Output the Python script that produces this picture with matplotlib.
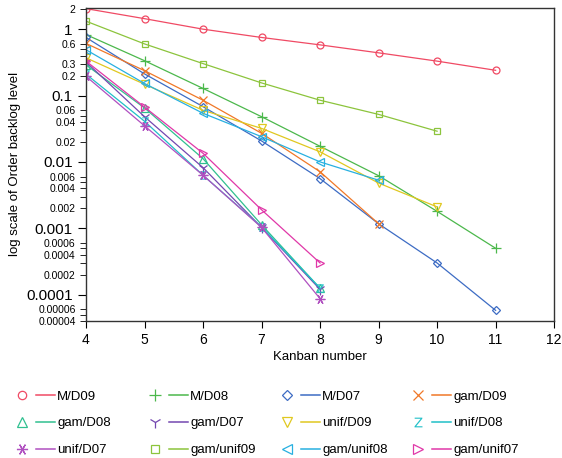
import matplotlib
matplotlib.use("Agg")
import matplotlib.pyplot as plt
from matplotlib.lines import Line2D
from matplotlib.legend_handler import HandlerTuple
from matplotlib.ticker import FixedLocator, FixedFormatter

plt.rcParams['font.family'] = ['Liberation Sans', 'DejaVu Sans']

# series (Kanban number -> backlog level)
labels = ["M/D09", "M/D08", "M/D07", "gam/D09",
          "gam/D08", "gam/D07", "unif/D09", "unif/D08",
          "unif/D07", "gam/unif09", "gam/unif08", "gam/unif07"]

x_md09 = [4, 5, 6, 7, 8, 9, 10, 11]
md09 = [2.04, 1.44, 1.0, 0.75, 0.58, 0.44, 0.33, 0.24]
x_md08 = [4, 5, 6, 7, 8, 9, 10, 11]
md08 = [0.83, 0.335, 0.128, 0.048, 0.0172, 0.0062, 0.0018, 0.0005]
x_md07 = [4, 5, 6, 7, 8, 9, 10, 11]
md07 = [0.75, 0.212, 0.068, 0.0207, 0.0056, 0.00117, 0.0003, 0.000058]
x_gd09 = [4, 5, 6, 7, 8, 9]
gd09 = [0.61, 0.237, 0.085, 0.027, 0.0071, 0.00117]
x_gd08 = [4, 5, 6, 7, 8]
gd08 = [0.29, 0.065, 0.0112, 0.00113, 0.000125]
x_gd07 = [4, 5, 6, 7, 8]
gd07 = [0.32, 0.048, 0.0082, 0.00103, 0.00012]
x_ud09 = [4, 5, 6, 7, 8, 9, 10]
ud09 = [0.37, 0.148, 0.060, 0.032, 0.0142, 0.0048, 0.0021]
x_ud08 = [4, 5, 6, 7, 8]
ud08 = [0.21, 0.041, 0.0063, 0.00105, 0.000125]
x_ud07 = [4, 5, 6, 7, 8]
ud07 = [0.195, 0.035, 0.0063, 0.00103, 0.000087]
x_gu09 = [4, 5, 6, 7, 8, 9, 10]
gu09 = [1.32, 0.60, 0.303, 0.155, 0.085, 0.052, 0.029]
x_gu08 = [4, 5, 6, 7, 8, 9]
gu08 = [0.49, 0.152, 0.054, 0.024, 0.010, 0.0053]
x_gu07 = [4, 5, 6, 7, 8]
gu07 = [0.33, 0.067, 0.0135, 0.0019, 0.0003]

xs = [x_md09, x_md08, x_md07, x_gd09, x_gd08, x_gd07,
      x_ud09, x_ud08, x_ud07, x_gu09, x_gu08, x_gu07]
ys = [md09, md08, md07, gd09, gd08, gd07, ud09, ud08, ud07, gu09, gu08, gu07]

colors = ["#f04a64", "#4cb84c", "#3d6cc4", "#f07828",
          "#30c090", "#7448b0", "#e0c820", "#20c0c8",
          "#b050c0", "#8cc43c", "#28b0e0", "#e038a8"]
markers = ["o", "+", "D", "x", "^", "1", "v", r"$\mathsf{Z}$",
           (6, 2, 30), "s", "<", ">"]
msizes = [5, 7, 4.5, 6, 5.5, 8, 5.5, 6, 7, 5, 5.5, 5.5]

fig = plt.figure(figsize=(5.62, 4.58), dpi=100)
ax = fig.add_axes([0.153, 0.299, 0.833, 0.684])

handles = []
for x, y, c, m, ms in zip(xs, ys, colors, markers, msizes):
    # the text marker looks right filled, the others are hollow
    filled = isinstance(m, str) and m.startswith("$")
    mfc = c if filled else "none"
    mw = 0 if filled else 0.9
    ax.plot(x, y, color=c, lw=0.9, marker=m, ms=ms, mfc=mfc,
            mec=c, mew=mw)
    mk = Line2D([], [], ls="none", marker=m, ms=ms + 1, mfc=mfc,
                mec=c, mew=mw)
    ln = Line2D([], [], color=c, lw=1.1)
    handles.append((mk, ln))

ax.set_yscale("log")
ax.set_xlim(4, 12)
ax.set_ylim(4e-5, 2.1)
ax.set_xticks(range(4, 13))
ax.tick_params(axis="x", labelsize=10, length=5, direction="out")

major = [1e-4, 1e-3, 1e-2, 1e-1, 1]
major_lab = ["0.0001", "0.001", "0.01", "0.1", "1"]
minor = [4e-5, 5e-5, 6e-5,
         2e-4, 3e-4, 4e-4, 5e-4, 6e-4,
         2e-3, 3e-3, 4e-3, 5e-3, 6e-3,
         2e-2, 3e-2, 4e-2, 5e-2, 6e-2,
         0.2, 0.3, 0.4, 0.5, 0.6, 2]
minor_lab = ["0.00004", "", "0.00006",
             "0.0002", "", "0.0004", "", "0.0006",
             "0.002", "", "0.004", "", "0.006",
             "0.02", "", "0.04", "", "0.06",
             "0.2", "0.3", "", "", "0.6", "2"]
ax.yaxis.set_major_locator(FixedLocator(major))
ax.yaxis.set_major_formatter(FixedFormatter(major_lab))
ax.yaxis.set_minor_locator(FixedLocator(minor))
ax.yaxis.set_minor_formatter(FixedFormatter(minor_lab))
ax.tick_params(axis="y", which="major", labelsize=11, length=6)
ax.tick_params(axis="y", which="minor", labelsize=7.5, length=4)

for s in ax.spines.values():
    s.set_color("#333333")
    s.set_linewidth(1.0)

ax.set_xlabel("Kanban number", fontsize=9.5, labelpad=3)
ax.set_ylabel("log scale of Order backlog level", fontsize=9.5, labelpad=4)

# one legend per column so the columns are evenly spaced like the reference
col_left = [12.5, 145.5, 277.5, 408.5]
for c in range(4):
    idx = [c + 4 * r for r in range(3)]
    leg = fig.legend([handles[i] for i in idx], [labels[i] for i in idx],
                     handler_map={tuple: HandlerTuple(ndivide=None, pad=0.3)},
                     loc="upper left", bbox_to_anchor=(col_left[c] / 562, 0.1478),
                     frameon=False, fontsize=9.5, handlelength=3.2,
                     handletextpad=0.2, labelspacing=1.11,
                     borderpad=0, borderaxespad=0)

fig.savefig("out.png", dpi=100)
